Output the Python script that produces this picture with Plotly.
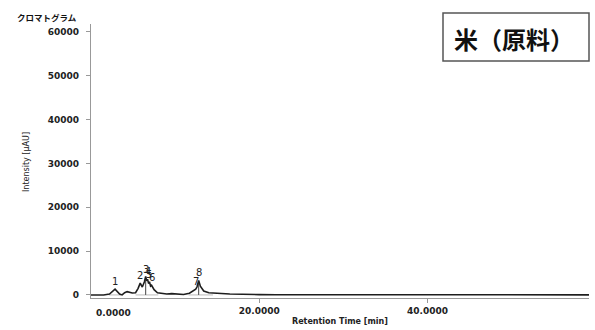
import plotly.graph_objects as go

# Chromatogram trace (retention time in min, intensity in µAU)
rt_min = [0.0, 1.5, 2.2, 2.86, 3.4, 3.7, 4.0, 4.3, 4.9, 5.3, 5.6, 5.85, 6.1, 6.35,
          6.5, 6.62, 6.72, 6.85, 6.95, 7.08, 7.2, 7.5, 7.9, 8.5, 9.0, 9.6, 10.2,
          11.0, 11.7, 12.2, 12.45, 12.6, 12.8, 13.0, 13.4, 14.0, 15.0, 16.5, 18.0,
          19.2, 20.0, 22.0, 30.0, 40.0, 50.0, 59.2]
intensity = [0, 0, 200, 1300, 200, 0, 500, 750, 450, 500, 1500, 2700, 1800, 3000,
             4200, 3200, 3600, 2600, 3000, 2000, 2200, 1200, 500, 300, 200, 300, 150,
             100, 400, 1100, 1300, 1800, 3300, 2000, 900, 500, 350, 200, 150,
             180, 80, 50, 30, 20, 20, 20]

# Detected peaks
peak_ids = ["1", "2", "3", "4", "5", "6", "7", "8"]
peak_rt = [2.86, 5.85, 6.5, 6.72, 6.95, 7.2, 12.45, 12.8]
peak_height = [1300, 2700, 4200, 3600, 3000, 2200, 1300, 3300]

# Integration baselines (start/end times)
base_start = [2.1, 5.3, 11.6]
base_end = [3.6, 8.0, 14.5]

x_ticks = [0, 20, 40]
x_tick_text = ["0.0000", "20.0000", "40.0000"]
y_ticks = [0, 10000, 20000, 30000, 40000, 50000, 60000]

fig = go.Figure()

for s, e in zip(base_start, base_end):
    fig.add_trace(go.Scatter(x=[s, e], y=[0, 0], mode="lines",
                             line=dict(color="#bbbbbb", width=1),
                             hoverinfo="skip", showlegend=False))

# drop lines at the main apexes
for pid, t, h in zip(peak_ids, peak_rt, peak_height):
    if pid not in ("3", "8"):
        continue
    fig.add_trace(go.Scatter(x=[t, t], y=[0, h * 0.8], mode="lines",
                             line=dict(color="#444", width=1),
                             hoverinfo="skip", showlegend=False))

fig.add_trace(go.Scatter(x=rt_min, y=intensity, mode="lines",
                         line=dict(color="#1e1e1e", width=1.6),
                         showlegend=False))

for pid, t, h in zip(peak_ids, peak_rt, peak_height):
    fig.add_annotation(x=t, y=h, text=pid, showarrow=False, yanchor="bottom",
                       yshift=0, font=dict(family="DejaVu Sans", size=10, color="#222"))

fig.update_layout(
    width=595, height=330,
    margin=dict(l=91, r=6, t=24, b=32),
    paper_bgcolor="white", plot_bgcolor="white",
    xaxis=dict(range=[0, 59.2], tickvals=x_ticks[1:], ticktext=x_tick_text[1:],
               showgrid=False, zeroline=False, showline=True, linecolor="#999",
               linewidth=1.2, ticks="outside", ticklen=4, tickcolor="#999",
               tickfont=dict(family="DejaVu Sans", size=9, color="#222", weight="bold")),
    yaxis=dict(range=[-700, 61800], tickvals=y_ticks, tickformat="d",
               showgrid=False, zeroline=False,
               showline=True, linecolor="#999", linewidth=1.2, ticks="outside",
               ticklen=4, tickcolor="#999", ticklabelstandoff=5,
               tickfont=dict(family="DejaVu Sans", size=9, color="#222", weight="bold")),
)

# zero label on the time axis
fig.add_annotation(x=(113 - 91) / 498, y=-(313 - 298) / 274, xref="paper", yref="paper",
                   text=x_tick_text[0], showarrow=False,
                   xanchor="center", yanchor="middle",
                   font=dict(family="DejaVu Sans", size=9, color="#222", weight="bold"))

fig.add_annotation(x=(340 - 91) / 498, y=-(322 - 298) / 274, xref="paper", yref="paper",
                   text="Retention Time [min]", showarrow=False,
                   xanchor="center", yanchor="middle",
                   font=dict(family="DejaVu Sans", size=8, color="#222", weight="bold"))

fig.add_annotation(x=(27 - 91) / 498, y=(298 - 162) / 274, xref="paper", yref="paper",
                   text="Intensity [μAU]", showarrow=False, textangle=-90,
                   xanchor="center", yanchor="middle",
                   font=dict(family="DejaVu Sans", size=8, color="#222"))

fig.add_annotation(x=(15 - 91) / 498, y=(298 - 17) / 274, xref="paper", yref="paper",
                   text="クロマトグラム", showarrow=False,
                   xanchor="left", yanchor="middle",
                   font=dict(family="Noto Sans CJK JP", size=8.5, color="#111", weight="bold"))

# sample name box
fig.add_shape(type="rect", xref="paper", yref="paper",
              x0=(443 - 91) / 498, x1=(589 - 91) / 498,
              y0=(298 - 61) / 274, y1=(298 - 13) / 274,
              line=dict(color="#555", width=1.5), fillcolor="white")
fig.add_annotation(x=(514 - 91) / 498, y=(298 - 38) / 274, xref="paper", yref="paper",
                   text="米（原料）", showarrow=False, xanchor="center", yanchor="middle",
                   font=dict(family="Noto Sans CJK JP", size=24, color="#111", weight="bold"))

fig.write_html("out.html")
